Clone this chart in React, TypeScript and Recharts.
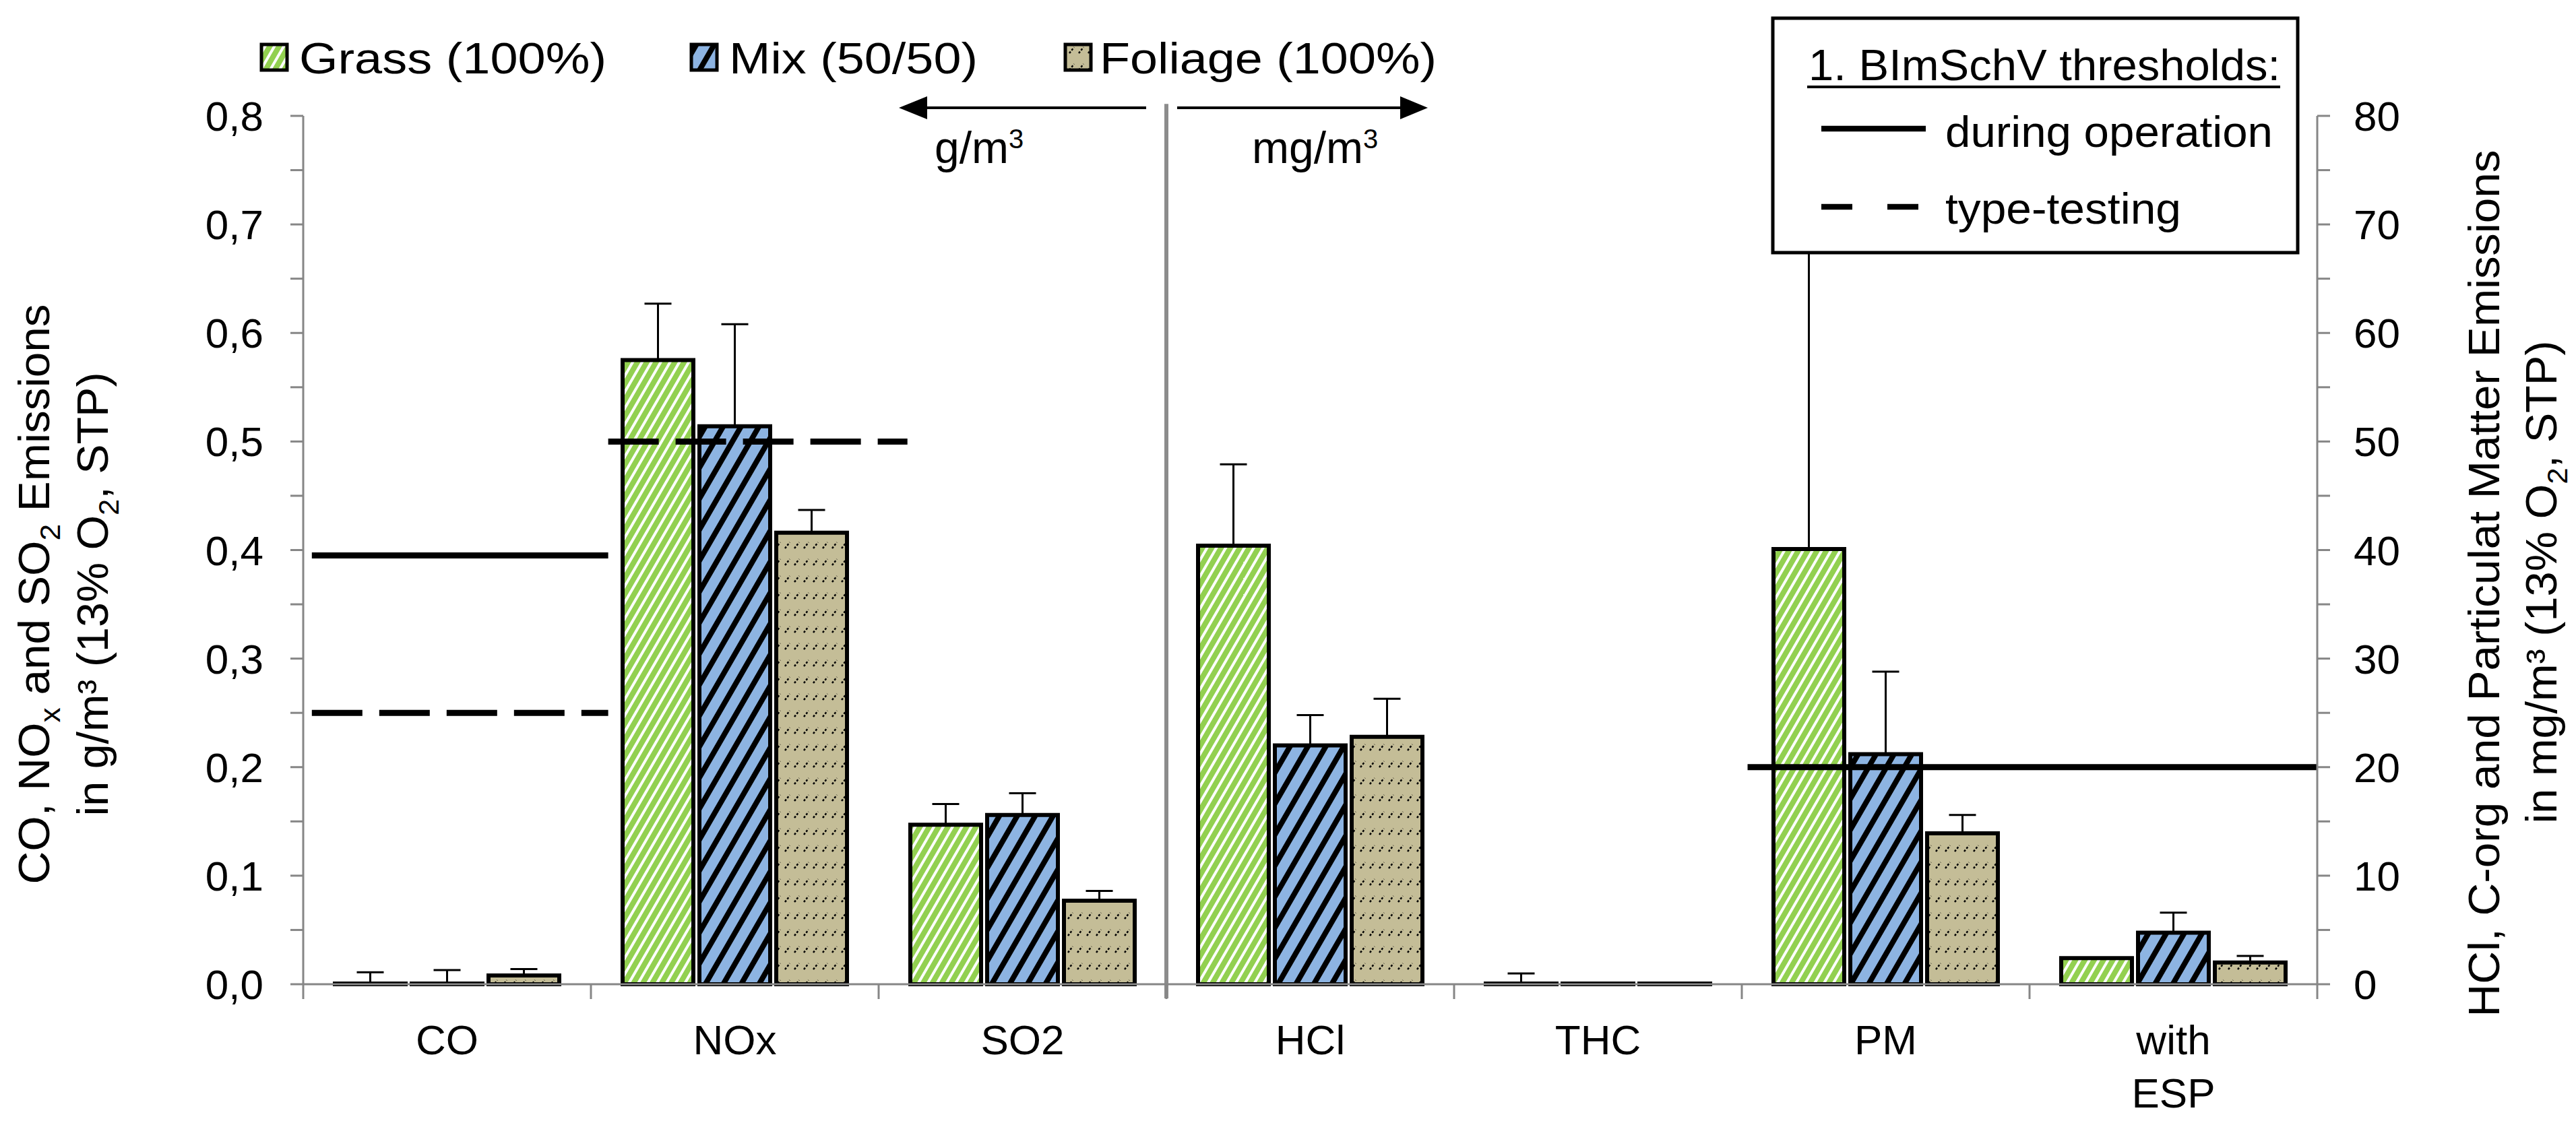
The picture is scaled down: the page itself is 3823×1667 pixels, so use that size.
import React from "react";
import { Bar, BarChart, ErrorBar, Legend, ReferenceLine, XAxis, YAxis } from "recharts";

// CO, NOx, SO2 are in g/m³ (left axis); the rest are in mg/m³ (right axis)
const categories = ["CO", "NOx", "SO2", "HCl", "THC", "PM", "with ESP"];
const leftCount = 3;

const grass = [0.0, 0.575, 0.147, 40.4, 0.0, 40.1, 2.4];
const mix = [0.0, 0.514, 0.156, 22.0, 0.0, 21.2, 4.75];
const foliage = [0.008, 0.416, 0.077, 22.8, 0.0, 13.9, 2.0];

// upper error only
const grassErr = [0.011, 0.052, 0.019, 7.5, 1.0, 36, 0];
const mixErr = [0.013, 0.094, 0.02, 2.8, 0.1, 7.6, 1.85];
const foliageErr = [0.006, 0.021, 0.009, 3.5, 0.1, 1.7, 0.6];

const leftTicks = [0, 0.05, 0.1, 0.15, 0.2, 0.25, 0.3, 0.35, 0.4, 0.45, 0.5, 0.55, 0.6, 0.65, 0.7, 0.75, 0.8];
const rightTicks = [0, 5, 10, 15, 20, 25, 30, 35, 40, 45, 50, 55, 60, 65, 70, 75, 80];
const slotTicks = [0, 0.5, 1, 1.5, 2, 2.5, 3, 3.5, 4, 4.5, 5, 5.5, 6, 6.5, 7];

// 1. BImSchV thresholds, x in category slots
const operationLimits = [
  { axis: "left", y: 0.395, from: 0.03, to: 1.06 },
  { axis: "right", y: 20, from: 5.02, to: 7 },
];
const typeTestLimits = [
  { axis: "left", y: 0.25, from: 0.03, to: 1.06 },
  { axis: "left", y: 0.5, from: 1.06, to: 2.1 },
];

const FONT = "'Liberation Sans', Arial, sans-serif";
const GRAY = "#868686";

const rows = categories.map((name, i) => {
  const s = i < leftCount ? "L" : "R";
  return {
    name,
    slot: i + 0.5,
    ["grass" + s]: grass[i],
    ["mix" + s]: mix[i],
    ["foliage" + s]: foliage[i],
    ["grassErr" + s]: [0, grassErr[i]],
    ["mixErr" + s]: [0, mixErr[i]],
    ["foliageErr" + s]: [0, foliageErr[i]],
  };
});

const series = [
  { key: "grass", fill: "url(#grassPat)" },
  { key: "mix", fill: "url(#mixPat)" },
  { key: "foliage", fill: "url(#foliagePat)" },
];

const zeroBar = (v: any) => (v === 0 ? 1 : 0);

const fmtLeft = (v: number) =>
  Math.round(v * 100) % 10 === 0 ? v.toFixed(1).replace(".", ",") : "";
const fmtRight = (v: number) => (v % 10 === 0 ? String(v) : "");

function SlotTick(props: any) {
  const { x, y, payload } = props;
  const v = payload.value;
  if (Number.isInteger(v)) {
    return <line x1={x} y1={y} x2={x} y2={y + 22} stroke={GRAY} strokeWidth={3} />;
  }
  const lines = categories[Math.floor(v)].split(" ");
  return (
    <text x={x} y={y + 104} textAnchor="middle" fontSize={62} fontFamily={FONT} fill="#000">
      {lines.map((l, i) => (
        <tspan key={i} x={x} dy={i ? 79 : 0}>
          {l}
        </tspan>
      ))}
    </text>
  );
}

function TopLegend() {
  const items = [
    { box: 8, text: 64, len: 456, label: "Grass (100%)", fill: "url(#grassPat)" },
    { box: 646, text: 702, len: 369, label: "Mix (50/50)", fill: "url(#mixPat)" },
    { box: 1201, text: 1252, len: 500, label: "Foliage (100%)", fill: "url(#foliagePat)" },
  ];
  return (
    <svg width={1800} height={100}>
      {items.map((it) => (
        <g key={it.label}>
          <rect x={it.box} y={26} width={38} height={38} fill={it.fill} stroke="#000" strokeWidth={5} />
          <text x={it.text} y={69} fontSize={64} fontFamily={FONT} textLength={it.len} lengthAdjust="spacingAndGlyphs">
            {it.label}
          </text>
        </g>
      ))}
    </svg>
  );
}

function Patterns() {
  return (
    <svg width={0} height={0} style={{ position: "absolute" }}>
      <defs>
        <pattern id="grassPat" patternUnits="userSpaceOnUse" width={12} height={12} patternTransform="rotate(30)">
          <rect width={12} height={12} fill="#92D050" />
          <rect width={4} height={12} fill="#fff" />
        </pattern>
        <pattern id="mixPat" patternUnits="userSpaceOnUse" width={23} height={23} patternTransform="rotate(30)">
          <rect width={23} height={23} fill="#8DB4E2" />
          <rect width={8} height={23} fill="#000" />
        </pattern>
        <pattern id="foliagePat" patternUnits="userSpaceOnUse" width={14} height={25}>
          <rect width={14} height={25} fill="#C4BD97" />
          <line x1={3} y1={14} x2={10} y2={5} stroke="#000" strokeWidth={2.5} strokeDasharray="3 2.5" />
        </pattern>
      </defs>
    </svg>
  );
}

function Overlay() {
  return (
    <svg
      width={3823}
      height={1667}
      style={{ position: "absolute", left: 0, top: 0, pointerEvents: "none" }}
      fontFamily={FONT}
    >
      {/* axis titles */}
      <text transform="translate(51,882) rotate(-90)" textAnchor="middle" dominantBaseline="central" fontSize={64} textLength={861} lengthAdjust="spacingAndGlyphs">
        CO, NO<tspan baselineShift="sub" fontSize={42}>x</tspan> and SO<tspan baselineShift="sub" fontSize={42}>2</tspan> Emissions
      </text>
      <text transform="translate(138,882) rotate(-90)" textAnchor="middle" dominantBaseline="central" fontSize={64} textLength={659} lengthAdjust="spacingAndGlyphs">
        in g/m³ (13% O<tspan baselineShift="sub" fontSize={42}>2</tspan>, STP)
      </text>
      <text transform="translate(3687,866) rotate(-90)" textAnchor="middle" dominantBaseline="central" fontSize={64} textLength={1287} lengthAdjust="spacingAndGlyphs">
        HCl, C-org and Particulat Matter Emissions
      </text>
      <text transform="translate(3772,864) rotate(-90)" textAnchor="middle" dominantBaseline="central" fontSize={64} textLength={717} lengthAdjust="spacingAndGlyphs">
        in mg/m³ (13% O<tspan baselineShift="sub" fontSize={42}>2</tspan>, STP)
      </text>

      {/* unit arrows */}
      <line x1={1370} y1={160} x2={1701} y2={160} stroke="#000" strokeWidth={4} />
      <polygon points="1334,160 1376,143 1376,177" fill="#000" />
      <line x1={1747} y1={160} x2={2082} y2={160} stroke="#000" strokeWidth={4} />
      <polygon points="2119,160 2078,143 2078,177" fill="#000" />
      <text x={1387} y={242} fontSize={66}>
        g/m<tspan baselineShift="super" fontSize={40}>3</tspan>
      </text>
      <text x={1858} y={242} fontSize={66}>
        mg/m<tspan baselineShift="super" fontSize={40}>3</tspan>
      </text>

      {/* threshold legend */}
      <rect x={2631} y={27} width={779} height={348} fill="#fff" stroke="#000" strokeWidth={5} />
      <text x={2684} y={119} fontSize={64} textLength={700} lengthAdjust="spacingAndGlyphs">
        1. BImSchV thresholds:
      </text>
      <line x1={2682} y1={129} x2={3384} y2={129} stroke="#000" strokeWidth={4} />
      <line x1={2703} y1={191} x2={2858} y2={191} stroke="#000" strokeWidth={8.5} />
      <text x={2887} y={218} fontSize={64} textLength={486} lengthAdjust="spacingAndGlyphs">
        during operation
      </text>
      <line x1={2703} y1={307} x2={2852} y2={307} stroke="#000" strokeWidth={8.5} strokeDasharray="46 52" />
      <text x={2887} y={332} fontSize={64} textLength={350} lengthAdjust="spacingAndGlyphs">
        type-testing
      </text>
    </svg>
  );
}

export default function App() {
  return (
    <div style={{ position: "absolute", left: 0, top: 0, width: 3823, height: 1667, background: "#fff" }}>
      <Patterns />
      <BarChart
        width={3823}
        height={1667}
        data={rows}
        margin={{ top: 172, right: 0, left: 0, bottom: 0 }}
        barCategoryGap={47}
        barGap={9}
      >
        <XAxis
          xAxisId="num"
          dataKey="slot"
          type="number"
          domain={[0, 7]}
          allowDataOverflow
          ticks={slotTicks}
          interval={0}
          height={206}
          tickSize={0}
          tickMargin={0}
          tickLine={false}
          axisLine={{ stroke: GRAY, strokeWidth: 3 }}
          tick={<SlotTick />}
        />
        <XAxis xAxisId="catL" dataKey="name" hide height={0} />
        <XAxis xAxisId="catR" dataKey="name" hide height={0} />
        <YAxis
          yAxisId="left"
          orientation="left"
          width={450}
          domain={[0, 0.8]}
          ticks={leftTicks}
          interval={0}
          tickFormatter={fmtLeft}
          tickSize={19}
          tickMargin={40}
          axisLine={{ stroke: GRAY, strokeWidth: 3 }}
          tickLine={{ stroke: GRAY, strokeWidth: 3 }}
          tick={{ fontSize: 62, fill: "#000", fontFamily: FONT }}
        />
        <YAxis
          yAxisId="right"
          orientation="right"
          width={384}
          domain={[0, 80]}
          ticks={rightTicks}
          interval={0}
          tickFormatter={fmtRight}
          tickSize={19}
          tickMargin={35}
          axisLine={{ stroke: GRAY, strokeWidth: 3 }}
          tickLine={{ stroke: GRAY, strokeWidth: 3 }}
          tick={{ fontSize: 62, fill: "#000", fontFamily: FONT }}
        />
        <Legend
          layout="vertical"
          align="center"
          verticalAlign="middle"
          wrapperStyle={{ top: 40, left: 380, width: 1800, height: 100 }}
          content={() => <TopLegend />}
        />

        {series.map((s) => (
          <Bar
            key={s.key + "L"}
            xAxisId="catL"
            yAxisId="left"
            dataKey={s.key + "L"}
            fill={s.fill}
            stroke="#000"
            strokeWidth={6}
            minPointSize={zeroBar}
            isAnimationActive={false}
          >
            <ErrorBar dataKey={s.key + "ErrL"} direction="y" width={20} stroke="#000" strokeWidth={3} />
          </Bar>
        ))}
        {series.map((s) => (
          <Bar
            key={s.key + "R"}
            xAxisId="catR"
            yAxisId="right"
            dataKey={s.key + "R"}
            fill={s.fill}
            stroke="#000"
            strokeWidth={6}
            minPointSize={zeroBar}
            isAnimationActive={false}
          >
            <ErrorBar dataKey={s.key + "ErrR"} direction="y" width={20} stroke="#000" strokeWidth={3} />
          </Bar>
        ))}

        <ReferenceLine
          xAxisId="num"
          yAxisId="left"
          segment={[{ x: 3, y: -0.013 }, { x: 3, y: 0.811 }]}
          ifOverflow="visible"
          stroke="#8c8c8c"
          strokeWidth={6}
        />
        {operationLimits.map((l, i) => (
          <ReferenceLine
            key={"op" + i}
            xAxisId="num"
            yAxisId={l.axis}
            segment={[{ x: l.from, y: l.y }, { x: l.to, y: l.y }]}
            stroke="#000"
            strokeWidth={9}
          />
        ))}
        {typeTestLimits.map((l, i) => (
          <ReferenceLine
            key={"tt" + i}
            xAxisId="num"
            yAxisId={l.axis}
            segment={[{ x: l.from, y: l.y }, { x: l.to, y: l.y }]}
            stroke="#000"
            strokeWidth={9}
            strokeDasharray="75 25"
          />
        ))}
      </BarChart>
      <Overlay />
    </div>
  );
}
